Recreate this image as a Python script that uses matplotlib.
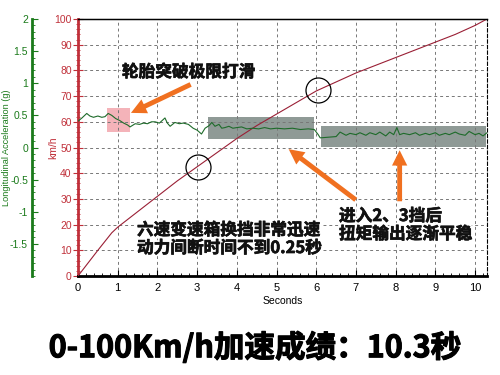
import matplotlib
matplotlib.use("Agg")
import matplotlib.pyplot as plt
import matplotlib.patheffects as pe
from matplotlib.ticker import MultipleLocator, FixedLocator, FixedFormatter
from matplotlib.patches import Rectangle

plt.rcParams['font.family'] = ['Liberation Sans', 'DejaVu Sans']
CJK = ['Noto Sans CJK SC', 'DejaVu Sans']

# speed curve (km/h vs seconds)
speed_t = [0, 0.5, 0.85, 1, 1.5, 2, 2.5, 3, 3.5, 4, 4.5, 5, 5.5, 6, 6.5, 7, 7.5, 8, 8.5, 9, 9.5, 10, 10.3]
speed_v = [0, 10, 16.8, 19, 25, 31, 37, 42.5, 48, 53.5, 58.5, 63, 67.5, 72, 75.5, 79, 82, 85, 88, 91, 94, 97.5, 100]

# longitudinal acceleration (g)
acc_t = [0, 0.1, 0.22, 0.3, 0.39, 0.5, 0.6, 0.68, 0.76, 0.85, 0.95, 1.05, 1.15, 1.25, 1.31,
         1.44, 1.55, 1.65, 1.75, 1.85, 1.94, 2.05, 2.12, 2.19, 2.25, 2.32, 2.44, 2.55, 2.65,
         2.78, 2.9, 3.0, 3.11, 3.2, 3.3, 3.37, 3.45, 3.55, 3.62, 3.7, 3.8, 3.9, 4.0, 4.12,
         4.25, 4.4, 4.55, 4.7, 4.85, 5.0, 5.2, 5.4, 5.6, 5.8, 5.95, 6.05, 6.1, 6.3, 6.5,
         6.6, 6.75, 6.85, 7.0, 7.1, 7.25, 7.35, 7.5, 7.6, 7.75, 7.85, 7.95, 8.03, 8.1, 8.2,
         8.35, 8.5, 8.6, 8.75, 8.85, 9.0, 9.1, 9.25, 9.35, 9.5, 9.6, 9.75, 9.85, 10.0, 10.1,
         10.2, 10.3]
acc_g = [0.41, 0.46, 0.53, 0.49, 0.47, 0.49, 0.47, 0.48, 0.53, 0.5, 0.45, 0.42, 0.38, 0.35, 0.32,
         0.37, 0.36, 0.38, 0.37, 0.4, 0.4, 0.38, 0.42, 0.46, 0.38, 0.33, 0.39, 0.37, 0.38,
         0.36, 0.3, 0.27, 0.21, 0.3, 0.34, 0.39, 0.33, 0.36, 0.3, 0.31, 0.33, 0.3, 0.31, 0.32,
         0.29, 0.3, 0.29, 0.31, 0.29, 0.3, 0.29, 0.3, 0.28, 0.29, 0.28, 0.2, 0.15, 0.16, 0.17,
         0.24, 0.19, 0.22, 0.2, 0.23, 0.19, 0.23, 0.2, 0.24, 0.18, 0.24, 0.2, 0.31, 0.2, 0.22,
         0.2, 0.23, 0.19, 0.22, 0.2, 0.23, 0.19, 0.22, 0.2, 0.24, 0.21, 0.19, 0.25, 0.2, 0.22,
         0.18, 0.23]

# highlighted regions (t0, t1, v0, v1) in km/h units
pink_box = (0.72, 1.31, 55.9, 65.2)
gray_boxes = [(3.28, 5.94, 53.2, 61.7), (6.11, 10.28, 50.1, 58.5)]
circles = [(3.03, 42.5), (6.05, 72.5)]

fig = plt.figure(figsize=(5, 3.75), dpi=100)
ax = fig.add_axes([78 / 500, 99 / 375, 409 / 500, 257 / 375])

for t0, t1, v0, v1 in gray_boxes:
    ax.add_patch(Rectangle((t0, v0), t1 - t0, v1 - v0, color='#838f8b', alpha=0.9, zorder=1, lw=0))
ax.add_patch(Rectangle((pink_box[0], pink_box[2]), pink_box[1] - pink_box[0],
                       pink_box[3] - pink_box[2], color='#f2a0a8', alpha=0.8, zorder=1, lw=0))

ax.plot(speed_t, speed_v, color='#9a1f35', lw=0.8, zorder=3)
for cx, cy in circles:
    ax.plot([cx], [cy], 'o', ms=18, mfc='none', mec='black', mew=0.9, zorder=4)

ax.set_xlim(0, 10.3)
ax.set_ylim(0, 100)
ax.xaxis.set_major_locator(MultipleLocator(1))
ax.xaxis.set_minor_locator(MultipleLocator(0.2))
ax.yaxis.set_major_locator(MultipleLocator(10))
ax.yaxis.set_minor_locator(MultipleLocator(2))
ax.grid(True, which='major', ls=(0, (3, 3)), color='#777777', lw=0.7)
ax.tick_params(axis='x', which='both', direction='in', labelsize=8, pad=5, length=4, color='black')
ax.tick_params(axis='x', which='minor', length=2.5)
ax.tick_params(axis='y', which='both', direction='inout', colors='#c0303a', labelsize=7.5, pad=1)
ax.tick_params(axis='y', which='major', length=7)
ax.tick_params(axis='y', which='minor', length=3)
ax.spines['left'].set_color('#c0303a')
ax.spines['left'].set_linewidth(2)
ax.spines['bottom'].set_linewidth(2)
ax.spines['top'].set_linewidth(1)
ax.spines['right'].set_linestyle((0, (3, 2)))
ax.set_xlabel('Seconds', fontsize=7.5, labelpad=2)
ax.set_ylabel('km/h', color='#c0303a', fontsize=7.5)
ax.yaxis.set_label_coords(-0.048, 0.5)

ax2 = ax.twinx()
ax2.plot(acc_t, acc_g, color='#1e6b2a', lw=0.8, zorder=3)
ax2.set_ylim(-2, 2)
ax2.yaxis.set_ticks_position('left')
ax2.yaxis.set_label_position('left')
ax2.spines['left'].set_position(('outward', 33))
ax2.spines['left'].set_color('#1a7a1a')
ax2.spines['left'].set_linewidth(2)
ax2.spines['right'].set_visible(False)
ax2.yaxis.set_major_locator(FixedLocator([-1.5, -1, -0.5, 0, 0.5, 1, 1.5, 2]))
ax2.yaxis.set_major_formatter(FixedFormatter(['-1.5', '-1', '-0.5', '0', '0.5', '1', '1.5', '2']))
ax2.yaxis.set_minor_locator(MultipleLocator(0.1))
ax2.tick_params(axis='y', which='both', direction='in', colors='#1a7a1a', labelsize=7.5, pad=3)
ax2.tick_params(axis='y', which='major', length=4)
ax2.tick_params(axis='y', which='minor', length=2)
ax2.set_ylabel('Longitudinal Acceleration (g)', color='#1a7a1a', fontsize=6.6)
ax2.yaxis.set_label_coords(-0.165, 0.5)

# arrows and notes
arrow_kw = dict(arrowstyle='simple,head_width=1.1,head_length=1.1,tail_width=0.35',
                color='#f07020', lw=0)
arrows = [((2.9, 75), (1.27, 63)), ((7.05, 29), (5.25, 50)), ((8.1, 28), (8.1, 50))]
for (x0, y0), (x1, y1) in arrows:
    ax2.annotate('', xy=(x1, y1), xytext=(x0, y0), xycoords=ax.transData,
                 textcoords=ax.transData, arrowprops=arrow_kw, zorder=6)

heavy = [pe.Stroke(linewidth=3, foreground='white'),
         pe.Stroke(linewidth=0.5, foreground='#111111'), pe.Normal()]
note_kw = dict(family=CJK, fontsize=12, fontweight='bold', color='#111111',
               zorder=7, path_effects=heavy)
fig.text(122 / 500, 1 - 72 / 375, '轮胎突破极限打滑', va='center', ha='left', **note_kw)
fig.text(137 / 500, 1 - 239 / 375, '六速变速箱换挡非常迅速\n动力间断时间不到0.25秒',
         va='center', ha='left', linespacing=1.0, **note_kw)
fig.text(339 / 500, 1 - 225 / 375, '进入2、3挡后\n扭矩输出逐渐平稳',
         va='center', ha='left', linespacing=1.0, **note_kw)

fig.text(0.51, 1 - 348 / 375, '0-100Km/h加速成绩：10.3秒', ha='center', va='center',
         family=CJK, fontsize=22, fontweight='bold', color='black',
         path_effects=[pe.Stroke(linewidth=0.8, foreground='black'), pe.Normal()])

fig.savefig('out.png', dpi=100)
